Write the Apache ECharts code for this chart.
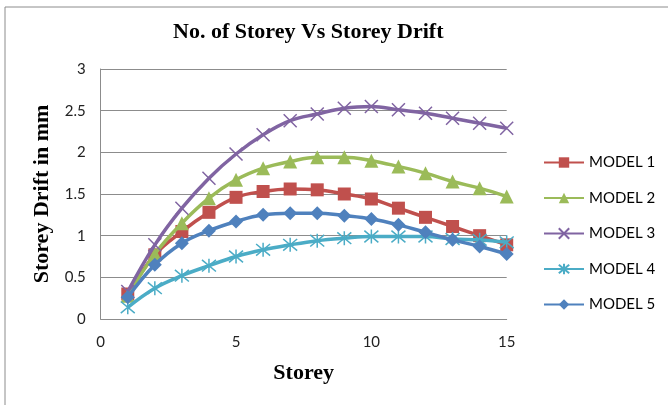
<!DOCTYPE html>
<html>
<head>
<meta charset="utf-8">
<script src="https://cdn.jsdelivr.net/npm/echarts@6/dist/echarts.min.js"></script>
<style>
html,body{margin:0;padding:0;background:#fff;}
#chart{width:668px;height:405px;}
</style>
</head>
<body>
<div id="chart"></div>
<script>
var titleText = 'No. of Storey Vs Storey Drift';
var xAxisName = 'Storey';
var yAxisName = 'Storey Drift in mm';
var storeys = [1,2,3,4,5,6,7,8,9,10,11,12,13,14,15];
var seriesNames = ['MODEL 1','MODEL 2','MODEL 3','MODEL 4','MODEL 5'];
var model1 = [0.30,0.77,1.05,1.28,1.46,1.53,1.56,1.55,1.50,1.44,1.33,1.22,1.11,1.00,0.89];
var model2 = [0.28,0.78,1.15,1.45,1.67,1.81,1.89,1.94,1.94,1.90,1.83,1.75,1.65,1.57,1.47];
var model3 = [0.33,0.89,1.33,1.69,1.98,2.21,2.38,2.46,2.53,2.55,2.51,2.47,2.41,2.35,2.29];
var model4 = [0.14,0.37,0.52,0.64,0.75,0.83,0.89,0.94,0.97,0.99,0.99,0.99,0.96,0.95,0.92];
var model5 = [0.26,0.65,0.91,1.06,1.17,1.25,1.27,1.27,1.24,1.20,1.13,1.04,0.95,0.87,0.78];

var allValues = [model1, model2, model3, model4, model5];
var colors = ['#C0504D','#9BBB59','#8064A2','#4BACC6','#4F81BD'];
var symbols = [
  'rect',
  'triangle',
  'path://M0,0 L10,10 M10,0 L0,10',
  'path://M0,0 L10,10 M10,0 L0,10 M5,-1 L5,11',
  'diamond'
];
var symbolSizes = [13, 14, 13, 14, 14];
var strokeSymbol = [false, false, true, true, false];

function pairs(vals){
  return storeys.map(function(s,i){ return [s, vals[i]]; });
}

var series = seriesNames.map(function(name, k){
  return {
    name: name,
    type: 'line',
    smooth: 0.4,
    data: pairs(allValues[k]),
    symbol: symbols[k],
    symbolSize: symbolSizes[k],
    showAllSymbol: true,
    lineStyle: { color: colors[k], width: 3.5 },
    itemStyle: strokeSymbol[k]
      ? { color: colors[k], borderColor: colors[k], borderWidth: 1.5 }
      : { color: colors[k], borderWidth: 0 },
    emphasis: { disabled: true },
    z: 2 + k
  };
});

var chart = echarts.init(document.getElementById('chart'), null, {renderer: 'canvas'});
chart.setOption({
  animation: false,
  backgroundColor: '#ffffff',
  graphic: [
    { type: 'rect', shape: { x: 5, y: 7, width: 700, height: 450 },
      style: { fill: 'none', stroke: '#8c8c8c', lineWidth: 1 }, z: -1 },
    { type: 'text', left: 173, top: 21,
      style: { text: titleText, font: 'bold 22px "Liberation Serif", serif', fill: '#000' } }
  ],
  grid: { left: 100.7, right: 161.3, top: 69, bottom: 86, containLabel: false },
  legend: {
    orient: 'vertical',
    left: 543,
    top: 155,
    padding: 0,
    itemWidth: 40,
    itemHeight: 13,
    itemGap: 20.5,
    data: seriesNames,
    textStyle: { fontFamily: 'Lato', fontSize: 15, color: '#000', lineHeight: 13 }
  },
  xAxis: {
    type: 'value',
    min: 0, max: 15, interval: 5,
    name: xAxisName,
    nameLocation: 'middle',
    nameGap: 43,
    nameTextStyle: { fontFamily: '"Liberation Serif", serif', fontWeight: 'bold', fontSize: 22, color: '#000' },
    axisLine: { show: true, lineStyle: { color: '#8c8c8c', width: 1 } },
    axisTick: { show: false },
    splitLine: { show: false },
    axisLabel: { fontFamily: 'Lato', fontSize: 15, color: '#222', margin: 16 }
  },
  yAxis: {
    type: 'value',
    min: 0, max: 3, interval: 0.5,
    name: yAxisName,
    nameLocation: 'middle',
    nameGap: 47,
    nameTextStyle: { fontFamily: '"Liberation Serif", serif', fontWeight: 'bold', fontSize: 22, color: '#000' },
    axisLine: { show: true, lineStyle: { color: '#8c8c8c', width: 1 } },
    axisTick: { show: false },
    splitLine: { show: true, lineStyle: { color: '#8c8c8c', width: 1 } },
    axisLabel: { fontFamily: 'Lato', fontSize: 15, color: '#222', margin: 15 }
  },
  series: series
});
</script>
</body>
</html>
